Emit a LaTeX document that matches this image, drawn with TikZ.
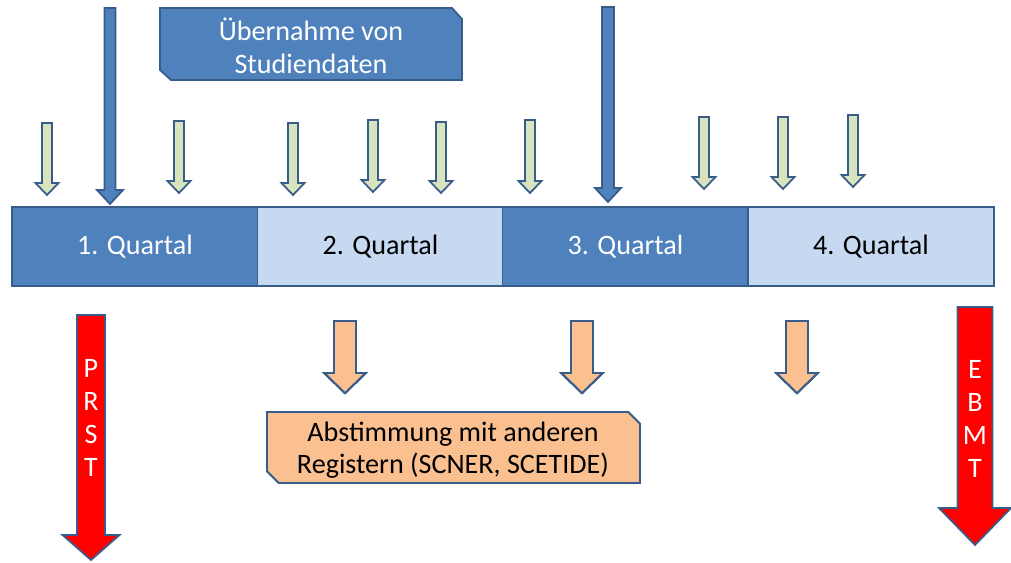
\documentclass[tikz,border=0pt]{standalone}
\usepackage{fontspec}
\setmainfont{Carlito}
\definecolor{qdark}{HTML}{4F81BD}
\definecolor{qlight}{HTML}{C6D9F1}
\definecolor{qedge}{HTML}{385D8A}
\definecolor{qgreen}{HTML}{D7E4BD}
\definecolor{qorange}{HTML}{FAC090}
\definecolor{qred}{HTML}{FF0000}
% down block arrow: style, x, top, tip, shaft width, head width, head height
\newcommand{\blockarrow}[7]{%
  \filldraw[#1] (#2-#5/2,#3) -- (#2+#5/2,#3) -- (#2+#5/2,#4-#7) -- (#2+#6/2,#4-#7)
    -- (#2,#4) -- (#2-#6/2,#4-#7) -- (#2-#5/2,#4-#7) -- cycle;}
\tikzset{
  qbox/.style={draw=qedge, line width=1pt, minimum width=4.92cm, minimum height=1.58cm, inner sep=0pt},
  qtext/.style={font=\fontsize{16}{18.6}\selectfont, align=center, inner sep=0pt},
  smallarr/.style={draw=qedge, fill=qgreen, line width=1pt, line join=miter},
  bigarr/.style={draw=qedge, fill=qdark, line width=1pt, line join=miter},
  orarr/.style={draw=qedge, fill=qorange, line width=1pt, line join=miter},
  redarr/.style={draw=qedge, fill=qred, line width=1pt, line join=miter}
}
\begin{document}
\begin{tikzpicture}[x=0.02cm, y=-0.02cm]
    \useasboundingbox (0,0) rectangle (1011,562);
    % Quartale
    \node[qbox, fill=qdark, qtext, text=white] (q1) at (135,246.5) {1. Quartal};
    \node[qbox, fill=qlight, qtext] (q2) at (380.5,246.5) {2. Quartal};
    \node[qbox, fill=qdark, qtext, text=white] (q3) at (625.5,246.5) {3. Quartal};
    \node[qbox, fill=qlight, qtext] (q4) at (871,246.5) {4. Quartal};
    % Studiendaten box
    \filldraw[draw=qedge, fill=qdark, line width=1pt] (160,8) -- (452,8) -- (462,19) -- (462,80) -- (171,80) -- (160,70) -- cycle;
    \node[qtext, text=white] (studie) at (311,46) {Übernahme von\\Studiendaten};
    % big blue arrows
    \blockarrow{bigarr}{110}{8}{204}{11}{26}{14}
    \blockarrow{bigarr}{608}{7}{202}{12}{26}{14}
    % small green arrows
    \foreach \x/\t/\b in {47/123/195, 179/121/193, 293/123/195, 373/120/192, 441/122/193,
                          530/120/193, 704/117/189, 783/117/189, 853/115/187}
      \blockarrow{smallarr}{\x}{\t}{\b}{10}{23}{12}
    % orange arrows
    \foreach \x in {345, 582, 797}
      \blockarrow{orarr}{\x}{321}{393}{22}{41}{20}
    % Abstimmung box
    \filldraw[draw=qedge, fill=qorange, line width=1pt] (267,412) -- (628,412) -- (640,424) -- (640,483) -- (279,483) -- (267,471) -- cycle;
    \node[qtext] (register) at (453,450) {Abstimmung mit anderen\\Registern (SCNER, SCETIDE)};
    % red arrows
    \blockarrow{redarr}{91}{315}{560}{28}{57}{25}
    \blockarrow{redarr}{975}{307}{545}{35}{72}{37}
    \node[qtext, text=white, font=\fontsize{16}{18.8}\selectfont] (prst) at (91,418) {P\\R\\S\\T};
    \node[qtext, text=white, font=\fontsize{16}{18.8}\selectfont] (ebmt) at (975,419) {E\\B\\M\\T};
\end{tikzpicture}
\end{document}
